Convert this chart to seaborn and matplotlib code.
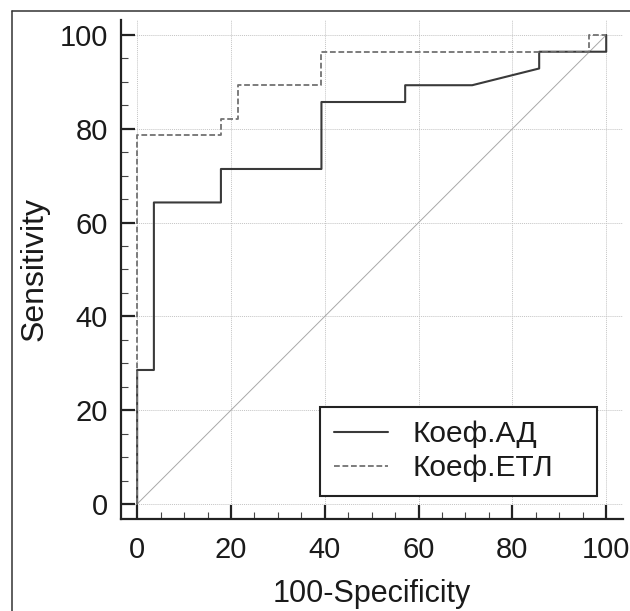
import numpy as np
import pandas as pd
import seaborn as sns
import matplotlib
matplotlib.use("Agg")
import matplotlib.pyplot as plt
from matplotlib.lines import Line2D
from matplotlib.ticker import MultipleLocator

# ROC curve coordinates (100-Specificity, Sensitivity), in percent
ad_fpr = [0, 0, 3.57, 3.57, 17.86, 17.86, 39.29, 39.29, 57.14, 57.14, 71.43, 85.71, 85.71, 100, 100]
ad_tpr = [0, 28.57, 28.57, 64.29, 64.29, 71.43, 71.43, 85.71, 85.71, 89.29, 89.29, 92.86, 96.43, 96.43, 100]

etl_fpr = [0, 0, 17.86, 17.86, 21.43, 21.43, 39.29, 39.29, 96.43, 96.43, 100]
etl_tpr = [0, 78.57, 78.57, 82.14, 82.14, 89.29, 89.29, 96.43, 96.43, 100, 100]

ref_x = [0, 100]
ref_y = [0, 100]

curve_names = ["Коеф.АД", "Коеф.ЕТЛ"]
tick_values = [0, 20, 40, 60, 80, 100]
x_label = "100-Specificity"
y_label = "Sensitivity"

sns.set_style("white")
plt.rcParams["font.family"] = ["Liberation Sans", "DejaVu Sans"]

fig = plt.figure(figsize=(6.30, 6.11), dpi=100)
ax = fig.add_axes([0.192, 0.1506, 0.7963, 0.8167])

df_ad = pd.DataFrame({"fpr": ad_fpr, "tpr": ad_tpr})
df_etl = pd.DataFrame({"fpr": etl_fpr, "tpr": etl_tpr})
df_ref = pd.DataFrame({"fpr": ref_x, "tpr": ref_y})

# chance diagonal
sns.lineplot(data=df_ref, x="fpr", y="tpr", ax=ax, estimator=None, sort=False,
             color="#a8a8a8", linewidth=0.7, legend=False)
sns.lineplot(data=df_ad, x="fpr", y="tpr", ax=ax, estimator=None, sort=False,
             color="#3a3a3a", linewidth=1.5, label=curve_names[0])
sns.lineplot(data=df_etl, x="fpr", y="tpr", ax=ax, estimator=None, sort=False,
             color="#727272", linewidth=1.3, linestyle=(0, (3.2, 1.5)),
             label=curve_names[1])

ax.set_xlim(-3.45, 103.5)
ax.set_ylim(-3.2, 103.2)
ax.set_xticks(tick_values)
ax.set_yticks(tick_values)
ax.xaxis.set_minor_locator(MultipleLocator(5))
ax.yaxis.set_minor_locator(MultipleLocator(5))

ax.grid(True, which="major", color="#c4c4c4", linestyle=(0, (1, 1)), linewidth=0.7)
ax.set_axisbelow(True)

for side in ["top", "right"]:
    ax.spines[side].set_visible(False)
for side in ["left", "bottom"]:
    ax.spines[side].set_linewidth(1.6)
    ax.spines[side].set_color("#222222")

ax.tick_params(axis="both", which="both", bottom=True, left=True, top=False, right=False)
ax.tick_params(axis="both", which="major", direction="in", length=10, width=1.6,
               color="#222222", labelsize=21, labelcolor="#1a1a1a")
ax.tick_params(axis="both", which="minor", direction="in", length=5, width=0.8,
               color="#444444")
ax.tick_params(axis="x", which="major", pad=12)
ax.tick_params(axis="y", which="major", pad=9.4)

ax.set_xlabel(x_label, fontsize=22, color="#1a1a1a", labelpad=11)
ax.set_ylabel(y_label, fontsize=23, color="#1a1a1a", labelpad=7)

leg = ax.legend(loc="lower left", bbox_to_anchor=(0.397, 0.047, 0.552, 0.2),
                mode="expand", borderaxespad=0, fontsize=21.5, frameon=True,
                fancybox=False, shadow=False, framealpha=1, edgecolor="#222222",
                handlelength=1.83, handletextpad=0.8, borderpad=0.45,
                labelspacing=0.2)
leg.get_frame().set_linewidth(1.5)
for t in leg.get_texts():
    t.set_color("#1a1a1a")

# frame edges around the figure
fig.add_artist(Line2D([11.5 / 630, 11.5 / 630], [0, 1 - 11 / 611],
                      transform=fig.transFigure, color="#333333", linewidth=1.1))
fig.add_artist(Line2D([11.5 / 630, 1], [1 - 11 / 611, 1 - 11 / 611],
                      transform=fig.transFigure, color="#333333", linewidth=1.1))

fig.savefig("out.png", dpi=100)
